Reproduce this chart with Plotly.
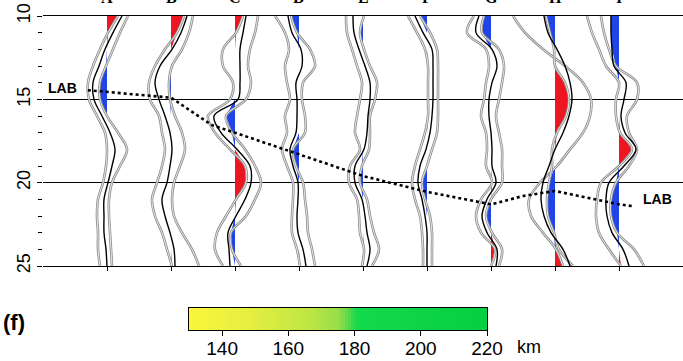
import plotly.graph_objects as go

# ---------------- data ----------------
DEPTH = list(range(10, 26))          # depth axis samples (10 .. 25)
STATIONS = ["A", "B", "C", "D", "E", "F", "G", "H", "I"]

# per-station curves: two gray curves and the black mean (amplitude, arbitrary units)
A_g1 = [11, 1, -7, -14, -19, -18, -10, -2, 0, -1, -4, -9, -10, -9, -9, -7]
A_mn = [15, 6, -2, -8, -14, -13, -5, 3, 8, 5, 1, -3, -3, -3, -1, 0]
A_g2 = [21, 13, 6, -1, -7, -7, 0, 11, 20, 13, 5, 2, 2, 3, 4, 5]

B_g1 = [13, 6, -6, -16, -22, -21, -12, -9, -6, -9, -14, -19, -16, -9, -4, 1]
B_mn = [16, 10, 1, -11, -16, -12, -6, -1, 1, -1, -4, -9, -6, -1, 3, 4]
B_g2 = [22, 18, 11, 1, -2, -1, 4, 11, 14, 9, 3, 1, 3, 11, 21, 28]

C_g1 = [8, 1, -12, -12, -2, -5, -27, -20, -5, 10, 11, 1, -9, -18, -20, -12]
C_mn = [11, 8, 5, 5, 5, 3, -21, -14, 2, 15, 16, 10, 1, -7, -6, -5]
C_g2 = [23, 20, 15, 13, 16, 11, -9, -3, 10, 20, 26, 20, 11, -4, -3, 6]

D_g1 = [-24, -14, -10, -14, -12, -9, -14, -12, -17, -12, -6, -6, -7, -7, -2, 1]
D_mn = [-11, -7, 2, 3, -3, -2, -2, -3, -9, -6, -1, -1, -2, -1, 4, 7]
D_g2 = [-8, -2, 11, 16, 4, 3, 6, 6, -6, -3, 4, 6, 8, 9, 13, 16]

E_g1 = [-17, -16, -11, -6, -1, -3, -6, -8, -3, -13, -14, -6, -4, -3, 1, -1]
E_mn = [-10, -9, -4, 2, 7, 7, 5, 4, 1, -8, -8, -1, 2, 4, 7, 4]
E_g2 = [1, -3, 1, 7, 14, 12, 7, 7, 6, -1, -3, 4, 7, 11, 16, 9]

F_g1 = [-19, -10, -2, 1, 1, 1, 1, -2, -7, -12, -15, -12, -7, -5, -4, -4]
F_mn = [-12, -4, 5, 6, 6, 6, 5, 3, -1, -7, -9, -5, -2, 0, 0, 0]
F_g2 = [-7, 3, 10, 11, 11, 11, 11, 10, 5, 0, -5, -2, 3, 5, 5, 5]

G_g1 = [-17, -24, -5, -2, -5, -7, -10, -5, -4, -5, 1, -10, -15, -10, 4, 0]
G_mn = [-12, -15, 1, 6, 1, -2, -2, 0, 1, 1, 5, -4, -9, -4, 6, 5]
G_g2 = [-7, -9, 8, 13, 11, 8, 5, 8, 11, 11, 11, 0, -5, 1, 11, 8]

H_g1 = [-42, -30, -12, 10, 28, 36, 35, 28, 15, 2, -15, -26, -24, -12, 1, 8]
H_mn = [-11, -7, 2, 10, 15, 17, 14, 8, 0, -6, -12, -14, -11, -4, 8, 15]
H_g2 = [-9, -5, -1, 0, 10, 14, 11, 2, -3, -3, -6, -8, -7, -1, 4, 18]

I_g1 = [-32, -27, -20, -13, 0, -3, -3, 1, 13, 0, -18, -22, -23, -20, -10, 2]
I_mn = [-8, -8, -7, -5, 7, 5, 2, 6, 17, 5, -10, -13, -12, -7, 4, 10]
I_g2 = [-18, -15, -10, -3, 18, 18, 8, 10, 18, 10, -3, -8, -8, -2, 15, 25]

# LAB dotted path (position in station units, depth)
LAB_X = [-0.30, 0.0, 1.0, 1.64, 2.0, 3.0, 4.0, 5.0, 6.0, 6.5, 7.0, 7.5, 8.0, 8.2]
LAB_D = [14.45, 14.55, 14.9, 16.55, 17.0, 18.3, 19.6, 20.55, 21.3, 20.8, 20.5, 20.9, 21.3, 21.4]

# colour bar (km)
CB_MIN, CB_MAX = 130, 220
CB_TICKS = [140, 160, 180, 200, 220]

TRACES = [
    (A_g1, A_mn, A_g2), (B_g1, B_mn, B_g2), (C_g1, C_mn, C_g2),
    (D_g1, D_mn, D_g2), (E_g1, E_mn, E_g2), (F_g1, F_mn, F_g2),
    (G_g1, G_mn, G_g2), (H_g1, H_mn, H_g2), (I_g1, I_mn, I_g2),
]

GAIN = 1.0 / 64.0   # amplitude -> station spacing units
RED = "#ee1420"
BLUE = "#1f44e8"
GRAY = "#8c8c8c"

fig = go.Figure()

def edge(vals, sign):
    out = []
    for i in range(len(DEPTH)):
        trip = [v[i] for v in vals]
        if sign > 0 and all(t > 0 for t in trip):
            out.append(min(trip))
        elif sign < 0 and all(t < 0 for t in trip):
            out.append(max(trip))
        else:
            out.append(0)
    return out

for k, (g1, mn, g2) in enumerate(TRACES):
    base = k
    for sign, col in ((1, RED), (-1, BLUE)):
        e = edge((g1, mn, g2), sign)
        xs = [base + v * GAIN for v in e] + [base, base]
        ys = DEPTH + [DEPTH[-1], DEPTH[0]]
        fig.add_trace(go.Scatter(x=xs, y=ys, mode="lines", fill="toself",
                                 fillcolor=col, line=dict(width=0),
                                 hoverinfo="skip", showlegend=False))
    for g in (g1, g2):
        xs = [base + v * GAIN for v in g]
        fig.add_trace(go.Scatter(x=xs, y=DEPTH, mode="lines",
                                 line=dict(color=GRAY, width=2.6, shape="spline"),
                                 hoverinfo="skip", showlegend=False))
        fig.add_trace(go.Scatter(x=xs, y=DEPTH, mode="lines",
                                 line=dict(color="white", width=0.8, shape="spline"),
                                 hoverinfo="skip", showlegend=False))
    fig.add_trace(go.Scatter(x=[base + v * GAIN for v in mn], y=DEPTH, mode="lines",
                             line=dict(color="black", width=1.4, shape="spline"),
                             hoverinfo="skip", showlegend=False))

fig.add_trace(go.Scatter(x=LAB_X, y=LAB_D, mode="lines",
                         line=dict(color="black", width=2.6, dash="dot"),
                         hoverinfo="skip", showlegend=False))

# colour bar as a heatmap on its own axes
cb_x = [CB_MIN + j + 0.5 for j in range(CB_MAX - CB_MIN)]
fig.add_trace(go.Heatmap(
    x=cb_x, y=[0.5], z=[cb_x], zmin=CB_MIN, zmax=CB_MAX,
    colorscale=[[0.0, "#fbf53c"], [0.2, "#e6ef40"], [0.4, "#bfe644"],
                [0.5, "#98de48"], [0.54, "#4fd94c"], [0.56, "#14d94c"],
                [1.0, "#06cf42"]],
    showscale=False, xaxis="x2", yaxis="y2", hoverinfo="skip"))

PX_W, PX_H = 640.0, 345.0
def px_x(p):
    return (p - 43) / PX_W
def px_y(p):
    return (361 - p) / PX_H

annotations = []
for k, s in enumerate(STATIONS):
    annotations.append(dict(x=k, xref="x", y=px_y(8), yref="paper", text="<b>%s</b>" % s,
                            showarrow=False, yanchor="bottom", xanchor="center",
                            font=dict(family="Liberation Serif", size=16, color="black")))
annotations.append(dict(x=-0.69, y=14.3, xref="x", yref="y", text="<b>LAB</b>", showarrow=False,
                        xanchor="center", yanchor="middle",
                        font=dict(family="Liberation Sans Narrow, Liberation Sans", size=14, color="black")))
annotations.append(dict(x=8.6, y=21.0, xref="x", yref="y", text="<b>LAB</b>", showarrow=False,
                        xanchor="center", yanchor="middle",
                        font=dict(family="Liberation Sans Narrow, Liberation Sans", size=14, color="black")))
annotations.append(dict(x=px_x(14), y=px_y(322), xref="paper", yref="paper", text="<b>(f)</b>",
                        showarrow=False, xanchor="center", yanchor="middle",
                        font=dict(family="Liberation Sans", size=22, color="black")))
annotations.append(dict(x=px_x(515), y=px_y(347), xref="paper", yref="paper", text="km",
                        showarrow=False, xanchor="left", yanchor="middle",
                        font=dict(family="Liberation Sans", size=18, color="black")))

fig.update_layout(
    width=683, height=361,
    margin=dict(l=43, r=0, t=16, b=0, autoexpand=False),
    paper_bgcolor="white", plot_bgcolor="white",
    showlegend=False,
    annotations=annotations,
    xaxis=dict(range=[-1, 9], domain=[0, 1], anchor="y", automargin=False,
               showline=True, mirror=True, linecolor="black", linewidth=1.3,
               ticks="outside", tickvals=list(range(9)), ticklen=4, tickcolor="black",
               showticklabels=False, showgrid=False, zeroline=False),
    yaxis=dict(range=[25, 10], domain=[px_y(266), 1], anchor="x", automargin=False,
               tickvals=[10, 15, 20, 25], ticktext=["10", "15", "20", "25"],
               tickangle=-90, ticks="outside", ticklen=5, tickcolor="black",
               tickfont=dict(family="Liberation Sans", size=18, color="black"),
               minor=dict(dtick=1, ticks="outside", ticklen=4, tickcolor="black", showgrid=False),
               showgrid=True, gridcolor="black", gridwidth=1.3,
               showline=False, zeroline=False),
    xaxis2=dict(range=[CB_MIN, CB_MAX], domain=[px_x(189), px_x(487)], anchor="y2",
                automargin=False,
                tickvals=CB_TICKS, ticks="outside", ticklen=5, tickcolor="black",
                ticklabelstandoff=-4,
                tickfont=dict(family="Liberation Sans", size=19, color="black"),
                showline=True, mirror=True, linecolor="black", linewidth=1.2,
                showgrid=False, zeroline=False),
    yaxis2=dict(range=[0, 1], domain=[px_y(330), px_y(308)], anchor="x2", automargin=False,
                showticklabels=False, ticks="", showline=True, mirror=True,
                linecolor="black", linewidth=1.2, showgrid=False, zeroline=False),
)

fig.write_html("out.html", config={"displayModeBar": False},
               post_script="document.body.style.margin='0';document.body.style.padding='0';")
